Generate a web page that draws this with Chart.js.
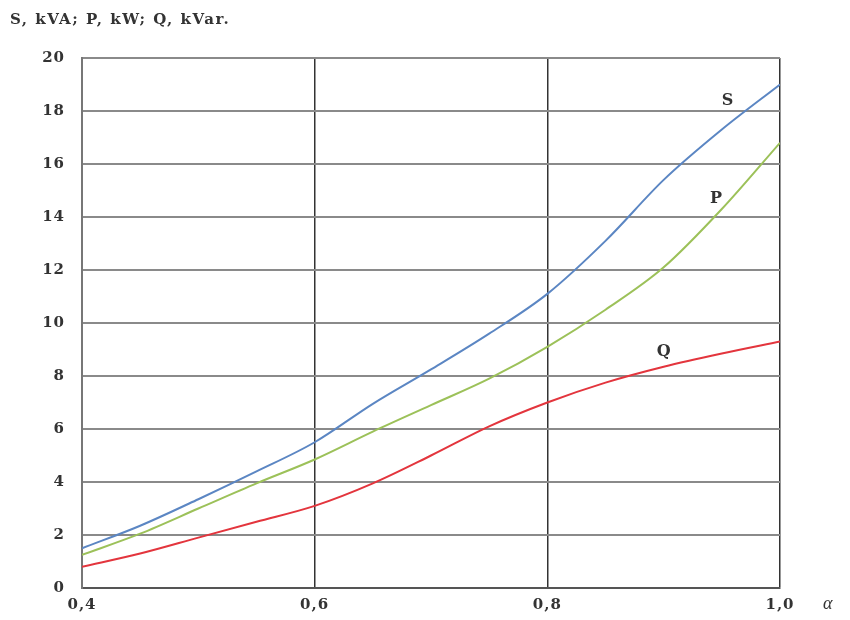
<!DOCTYPE html>
<html>
<head>
<meta charset="utf-8">
<script src="https://cdn.jsdelivr.net/npm/chart.js@4"></script>
<style>
    html, body { margin: 0; padding: 0; background: #fff; }
    #wrap { width: 850px; height: 620px; position: relative; }
</style>
</head>
<body>
<div id="wrap"><canvas id="powerChart"></canvas></div>
<script>
// Data
const alpha = [0.4, 0.45, 0.5, 0.55, 0.6, 0.65, 0.7, 0.75, 0.8, 0.85, 0.9, 0.95, 1.0];
const sValues = [1.5, 2.35, 3.35, 4.4, 5.5, 6.95, 8.25, 9.6, 11.1, 13.1, 15.4, 17.3, 19.0];
const pValues = [1.25, 2.05, 3.0, 3.95, 4.85, 5.9, 6.9, 7.9, 9.1, 10.5, 12.1, 14.3, 16.8];
const qValues = [0.8, 1.3, 1.9, 2.5, 3.1, 3.95, 5.0, 6.1, 7.0, 7.75, 8.35, 8.85, 9.3];
const xTicks = [0.4, 0.6, 0.8, 1.0];
const yTicks = [0, 2, 4, 6, 8, 10, 12, 14, 16, 18, 20];

// curve names and where they are written on the chart
const curveLabels = ['S', 'P', 'Q'];
const labelAlpha = [0.955, 0.945, 0.9];
const labelValue = [18.4, 14.7, 8.9];

const serifFont = '"DejaVu Serif", "Liberation Serif", serif';

function toPoints(values) {
    return alpha.map((a, i) => ({ x: a, y: values[i] }));
}

// the original print uses a wide bold serif, so open the letters up a bit
const spacing = {
    id: 'spacing',
    beforeLayout(chart) { chart.ctx.letterSpacing = '1px'; },
    beforeDraw(chart) { chart.ctx.letterSpacing = '1px'; }
};

// Function to write the axis caption, alpha and the curve names
const annotations = {
    id: 'annotations',
    afterDraw(chart) {
        const ctx = chart.ctx;
        const xScale = chart.scales.x;
        const yScale = chart.scales.y;
        ctx.save();
        ctx.fillStyle = '#333';
        ctx.font = 'bold 15px ' + serifFont;
        ctx.letterSpacing = '1.5px';
        ctx.textBaseline = 'middle';
        ctx.textAlign = 'left';
        ctx.fillText('S, kVA; P, kW; Q, kVar.', 10, 20);

        ctx.letterSpacing = '0px';
        ctx.font = 'italic 18px "Liberation Serif", serif';
        ctx.fillText('α', 823, 604);

        ctx.font = 'bold 16px ' + serifFont;
        ctx.textAlign = 'center';
        curveLabels.forEach((name, i) => {
            ctx.fillText(name, xScale.getPixelForValue(labelAlpha[i]), yScale.getPixelForValue(labelValue[i]));
        });
        ctx.restore();
    }
};

const chartData = {
    datasets: [
        {
            label: 'S',
            data: toPoints(sValues),
            borderColor: '#5b86c3',
            borderWidth: 2
        },
        {
            label: 'P',
            data: toPoints(pValues),
            borderColor: '#9cc159',
            borderWidth: 2
        },
        {
            label: 'Q',
            data: toPoints(qValues),
            borderColor: '#e3353d',
            borderWidth: 2
        }
    ]
};

const chartConfig = {
    type: 'line',
    data: chartData,
    options: {
        responsive: true,
        maintainAspectRatio: false,
        animation: false,
        layout: {
            padding: { top: 58, right: 70, left: 0, bottom: 0 }
        },
        elements: {
            point: { radius: 0 },
            line: { cubicInterpolationMode: 'monotone' }
        },
        plugins: {
            legend: { display: false },
            tooltip: { enabled: false }
        },
        scales: {
            x: {
                type: 'linear',
                min: 0.4,
                max: 1.0,
                afterBuildTicks: (scale) => {
                    scale.ticks = xTicks.map(v => ({ value: v }));
                },
                afterFit: (scale) => { scale.height = 32; },
                border: { display: true, color: '#555', width: 2 },
                grid: {
                    drawTicks: false,
                    color: (c) => (c.tick && (c.tick.value === 0.4) ? 'rgba(0,0,0,0)' : '#333'),
                    lineWidth: 1.5
                },
                ticks: {
                    padding: 8,
                    color: '#333',
                    maxRotation: 0,
                    font: { family: serifFont, size: 15, weight: 'bold' },
                    callback: (v) => v.toFixed(1).replace('.', ',')
                }
            },
            y: {
                min: 0,
                max: 20,
                afterBuildTicks: (scale) => {
                    scale.ticks = yTicks.map(v => ({ value: v }));
                },
                afterFit: (scale) => { scale.width = 82; },
                border: { display: true, color: '#777', width: 2 },
                grid: {
                    drawTicks: false,
                    color: '#8a8a8a',
                    lineWidth: 2
                },
                ticks: {
                    padding: 17,
                    color: '#333',
                    font: { family: serifFont, size: 15, weight: 'bold' }
                }
            }
        }
    },
    plugins: [spacing, annotations]
};

const ctx = document.getElementById('powerChart').getContext('2d');
const powerChart = new Chart(ctx, chartConfig);
</script>
</body>
</html>
